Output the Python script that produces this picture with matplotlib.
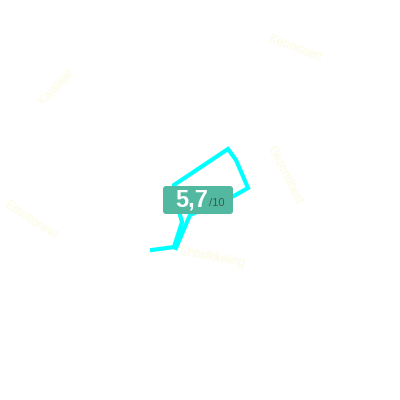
import matplotlib.pyplot as plt
from matplotlib.patches import FancyBboxPatch

plt.rcParams['font.family'] = ['Liberation Sans', 'DejaVu Sans']

# radar outline (pixel units)
line_x = [152, 174, 182, 180, 174, 228, 236, 248, 232, 190, 176]
line_y = [250, 247, 222, 215, 185, 149, 160, 188, 197, 215, 248]

labels = ["Kennissen", "Gezondheid", "Ontwikkeling", "Emotioneel", "Kwaliteit"]
label_x = [295, 284, 212, 30, 56]
label_y = [49, 175, 257, 221, 87]
label_rot = [-20, -63, -11, -33, 45]

score = "5,7"
score_max = "/10"

fig = plt.figure(figsize=(4, 4), dpi=100)
ax = fig.add_axes([0, 0, 1, 1])
ax.set_xlim(0, 400)
ax.set_ylim(400, 0)
ax.axis('off')

ax.plot(line_x, line_y, color='#00ffff', lw=3, solid_joinstyle='miter', zorder=1)

for t, x, y, r in zip(labels, label_x, label_y, label_rot):
    ax.text(x, y, t, rotation=r, ha='center', va='center', fontsize=8.5,
            color='#fdfbe0', rotation_mode='anchor')

box = FancyBboxPatch((163, 186), 70, 28, boxstyle='round,pad=0,rounding_size=3',
                     fc='#52b8a0', ec='none', zorder=3)
ax.add_patch(box)
ax.text(175, 200, score, ha='left', va='center', fontsize=17, color='white',
        fontweight='bold', zorder=4)
ax.text(209, 203, score_max, ha='left', va='center', fontsize=8,
        color='#3d5c55', zorder=4)

fig.savefig('out.png', dpi=100)
